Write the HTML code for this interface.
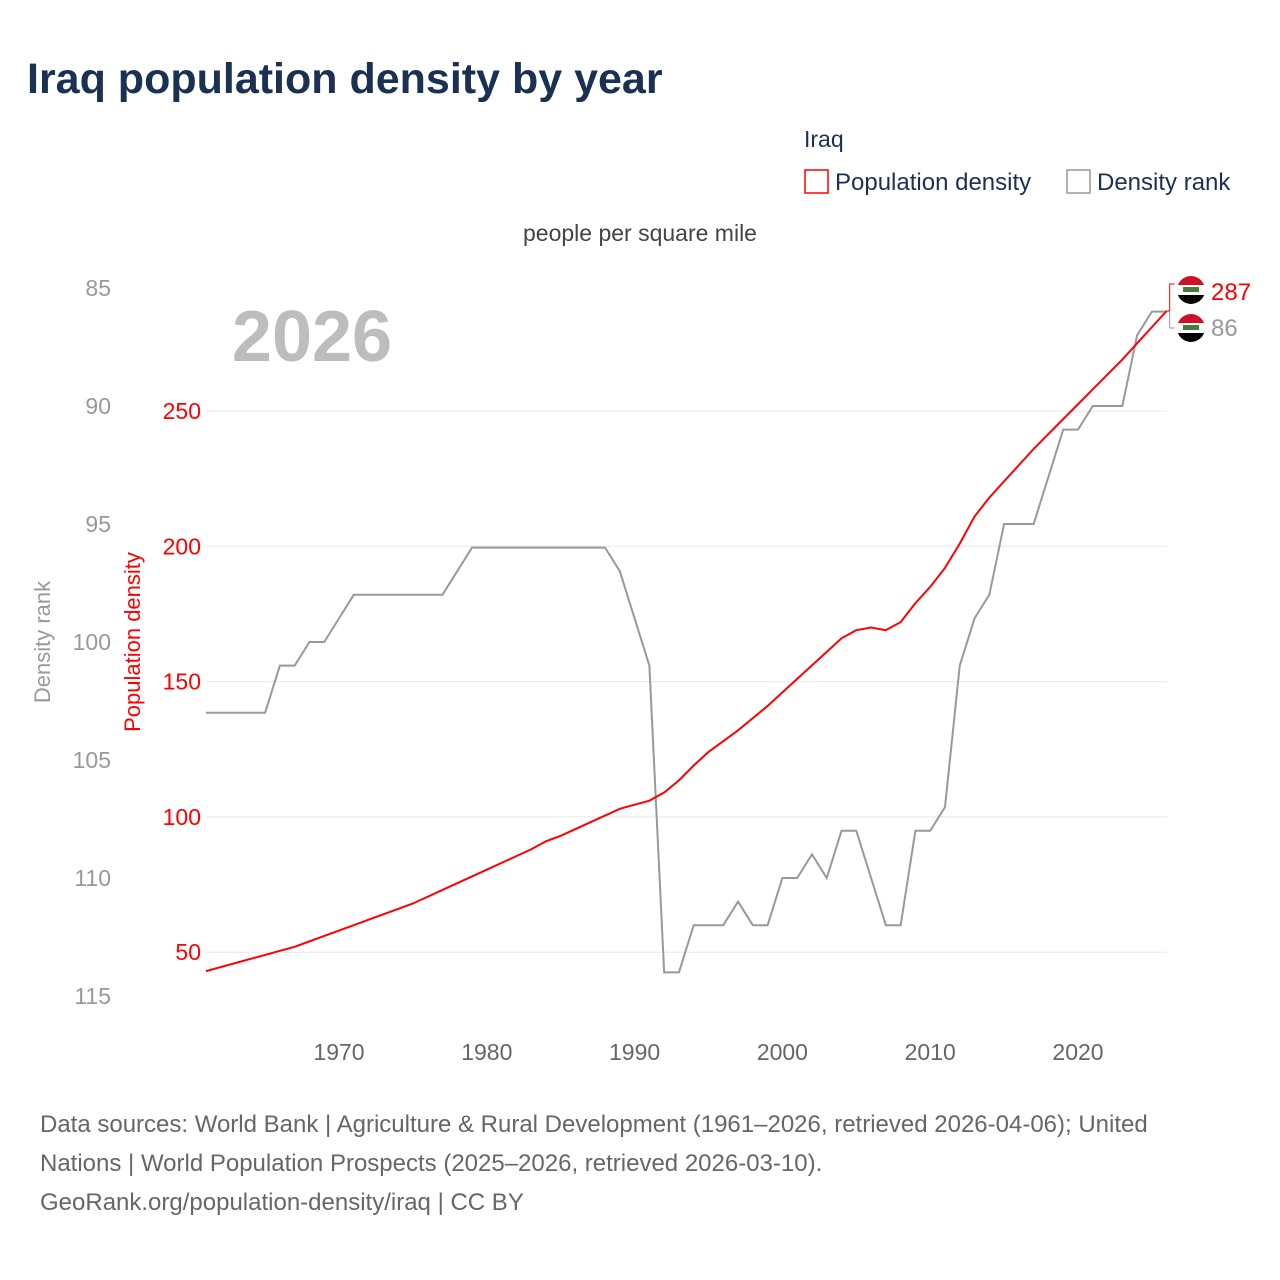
<!DOCTYPE html>
<html><head><meta charset="utf-8">
<style>
body{margin:0;background:#fff;font-family:"Liberation Sans",sans-serif;}
#wrap{position:relative;width:1280px;height:1280px;overflow:hidden;}
svg text{font-family:"Liberation Sans",sans-serif;}
</style></head>
<body>
<div id="wrap">
<svg id="chart" width="1280" height="1280">
  <text x="27" y="93" font-size="43" font-weight="bold" fill="#1b3153">Iraq population density by year</text>
  <text x="804" y="147" font-size="23" fill="#1b3153">Iraq</text>
  <rect x="805" y="170" width="23" height="23" fill="none" stroke="#ff0000" stroke-width="1.5"/>
  <text x="835" y="190" font-size="24" fill="#1b3153">Population density</text>
  <rect x="1067" y="170" width="23" height="23" fill="none" stroke="#999" stroke-width="1.5"/>
  <text x="1097" y="190" font-size="24" fill="#1b3153">Density rank</text>
  <text x="640" y="241" font-size="23" fill="#444" text-anchor="middle">people per square mile</text>
  <text x="312" y="361" font-size="72" font-weight="bold" fill="#bdbdbd" text-anchor="middle">2026</text>
  <text transform="translate(50,642) rotate(-90)" font-size="22" fill="#999" text-anchor="middle">Density rank</text>
  <text transform="translate(140,642) rotate(-90)" font-size="22" fill="#ff0000" text-anchor="middle">Population density</text>
  <g id="grid"></g><g id="axes"></g><g id="series"></g>
  <text x="40" y="1132" font-size="24" fill="#666">Data sources: World Bank | Agriculture &amp; Rural Development (1961–2026, retrieved 2026-04-06); United</text>
  <text x="40" y="1171" font-size="24" fill="#666">Nations | World Population Prospects (2025–2026, retrieved 2026-03-10).</text>
  <text x="40" y="1210" font-size="24" fill="#666">GeoRank.org/population-density/iraq | CC BY</text>
</svg>
</div>
<script>
const years=[];for(let y=1961;y<=2026;y++)years.push(y);
const density=[43,44.5,46,47.5,49,50.5,52,54,56,58,60,62,64,66,68,70.5,73,75.5,78,80.5,83,85.5,88,91,93,95.5,98,100.5,103,104.5,106,109,113.5,119,124,128,132,136.5,141,146,151,156,161,166,169,170,169,172,179,185,192,201,211,218,224,230,236,241.5,247,252.5,258,263.5,269,275,281,287];
const rank=[103,103,103,103,103,101,101,100,100,99,98,98,98,98,98,98,98,97,96,96,96,96,96,96,96,96,96,96,97,99,101,114,114,112,112,112,111,112,112,110,110,109,110,108,108,110,112,112,108,108,107,101,99,98,95,95,95,93,91,91,90,90,90,87,86,86];
const densityTicks=[50,100,150,200,250];
const rankTicks=[85,90,95,100,105,110,115];
const xTicks=[1970,1980,1990,2000,2010,2020];
const NS='http://www.w3.org/2000/svg';
const xS=y=>339+(y-1970)*14.78;
const yD=v=>411+(250-v)*2.706;
const yR=r=>288+(r-85)*23.6;
function mk(tag,attrs,parent,txt){const e=document.createElementNS(NS,tag);for(const k in attrs)e.setAttribute(k,attrs[k]);if(txt!==undefined)e.textContent=txt;document.getElementById(parent).appendChild(e);return e;}
densityTicks.forEach(v=>{
  const l=mk('line',{x1:206,x2:1167,y1:yD(v),y2:yD(v),stroke:'#e8e8e8','stroke-width':1},'grid');
  
  
  const t=mk('text',{x:201,y:yD(v)+8,'font-size':23,fill:'#ff0000','text-anchor':'end'},'axes',v);
  
  
});
rankTicks.forEach(v=>{
  const t=mk('text',{x:111,y:yR(v)+8,'font-size':23,fill:'#999','text-anchor':'end'},'axes',v);
  
  
});
xTicks.forEach(v=>{
  const t=mk('text',{x:xS(v),y:1060,'font-size':23,fill:'#666','text-anchor':'middle'},'axes',v);
  
  
});
const rp=mk('polyline',{points:years.map((y,i)=>xS(y)+','+yR(rank[i])).join(' '),fill:'none',stroke:'#999','stroke-width':2},'series');


const dp=mk('polyline',{points:years.map((y,i)=>xS(y)+','+yD(density[i])).join(' '),fill:'none',stroke:'#ff0000','stroke-width':2},'series');


const lx=xS(2026),dy=yD(density[density.length-1]),ry=yR(rank[rank.length-1]);
const fy1=292,fy2=328;
const c1=mk('polyline',{points:`${lx},${dy} ${lx+3},${dy} ${lx+3},${fy1-8} ${lx+8},${fy1-8}`,fill:'none',stroke:'#ff0000','stroke-width':1},'series');


const c2=mk('polyline',{points:`${lx},${ry} ${lx+3},${ry} ${lx+3},${fy2} ${lx+8},${fy2}`,fill:'none',stroke:'#999','stroke-width':1},'series');


[[fy1-2,'flag-density'],[fy2,'flag-rank']].forEach(([cy,n])=>{
  const g=mk('g',{},'series');
  
  
  const cx=1191;
  const cp=mk('clipPath',{id:'cp'+n},'series');
  const cc=document.createElementNS(NS,'circle');cc.setAttribute('cx',cx);cc.setAttribute('cy',cy);cc.setAttribute('r',14);cp.appendChild(cc);
  const g2=document.createElementNS(NS,'g');g2.setAttribute('clip-path','url(#cp'+n+')');g.appendChild(g2);
  [['#ce1126',-14],['#fff',-5],['#000',5]].forEach(([c,o])=>{const r=document.createElementNS(NS,'rect');r.setAttribute('x',cx-15);r.setAttribute('y',cy+o);r.setAttribute('width',30);r.setAttribute('height',o==5?10:10);r.setAttribute('fill',c);g2.appendChild(r);});
  const s=document.createElementNS(NS,'rect');s.setAttribute('x',cx-8);s.setAttribute('y',cy-3);s.setAttribute('width',16);s.setAttribute('height',5);s.setAttribute('fill','#4a7a3c');g2.appendChild(s);
});
const t1=mk('text',{x:1211,y:fy1+8,'font-size':24,fill:'#ff0000'},'series',density[density.length-1]);


const t2=mk('text',{x:1211,y:fy2+8,'font-size':24,fill:'#999'},'series',rank[rank.length-1]);


</script>
</body></html>
